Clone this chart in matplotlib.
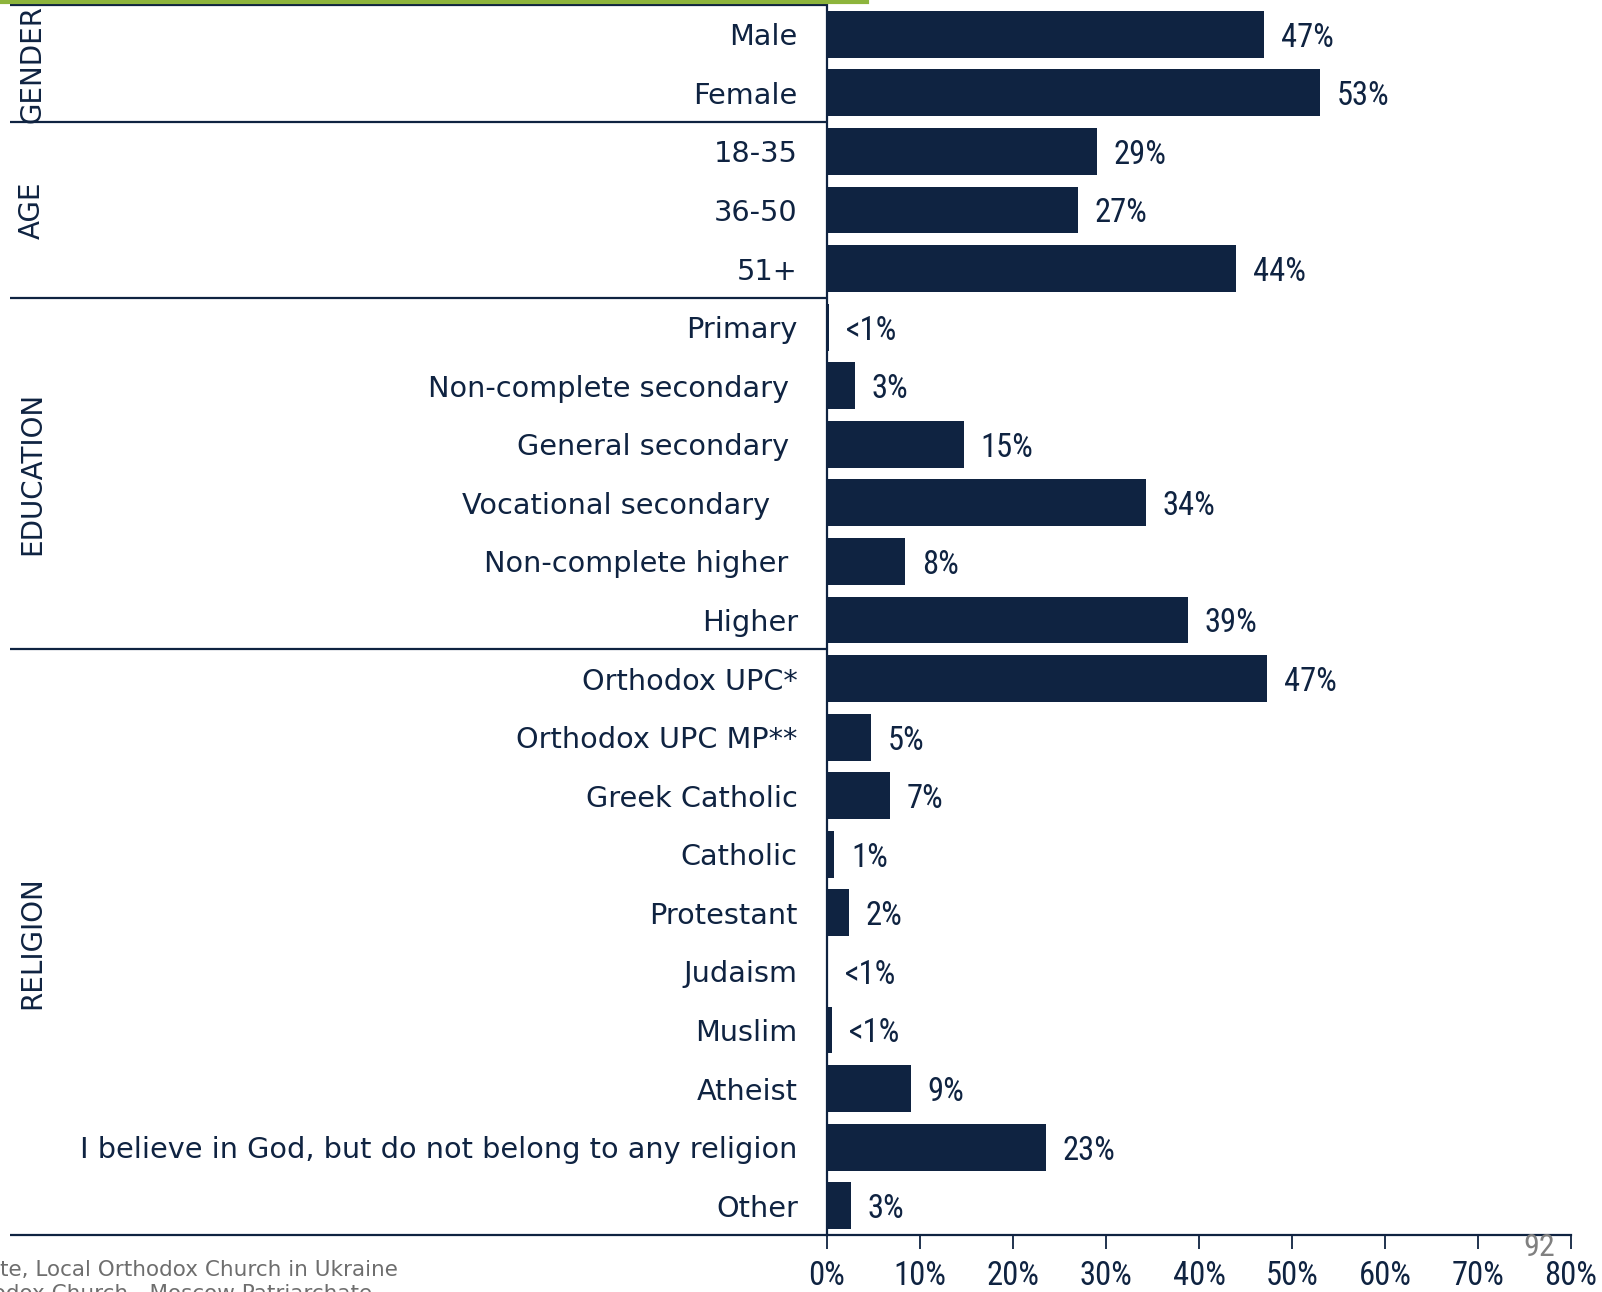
import matplotlib
matplotlib.use("Agg")
import matplotlib.pyplot as plt
import matplotlib.transforms as mtransforms
from matplotlib.lines import Line2D
from matplotlib import font_manager

# ---- data ----
categories = ["Male", "Female",
              "18-35", "36-50", "51+",
              "Primary", "Non-complete secondary ", "General secondary ",
              "Vocational secondary   ", "Non-complete higher ", "Higher",
              "Orthodox UPC*", "Orthodox UPC MP**", "Greek Catholic", "Catholic",
              "Protestant", "Judaism", "Muslim", "Atheist",
              "I believe in God, but do not belong to any religion", "Other"]
values = [47, 53,
          29, 27, 44,
          0.2, 3, 14.7, 34.3, 8.4, 38.8,
          47.3, 4.7, 6.8, 0.8, 2.4, 0.1, 0.5, 9, 23.5, 2.6]
value_labels = ["47%", "53%",
                "29%", "27%", "44%",
                "<1%", "3%", "15%", "34%", "8%", "39%",
                "47%", "5%", "7%", "1%", "2%", "<1%", "<1%", "9%", "23%", "3%"]
groups = ["GENDER", "AGE", "EDUCATION", "RELIGION"]
group_sizes = [2, 3, 6, 10]
xticks = [0, 10, 20, 30, 40, 50, 60, 70, 80]
xtick_labels = ["0%", "10%", "20%", "30%", "40%", "50%", "60%", "70%", "80%"]
footnote1 = "* UPC \u2013 Ukrainian Orthodox Church of Kyiv Patriarchate, Local Orthodox Church in Ukraine"
footnote2 = "** UPC MP \u2013 Ukrainian Orthodox Church - Moscow Patriarchate"
page_number = "92"

NAVY = "#0F2341"
GREEN = "#8DB43C"
GRAY = "#6E6E6E"

installed = {f.name for f in font_manager.fontManager.ttflist}
NARROW = [f for f in ["Liberation Sans Narrow", "Roboto Condensed", "Roboto"] if f in installed]
NARROW = (NARROW[:1] or []) + ["DejaVu Sans"]
num_size = 23.5 if NARROW[0] in ("Liberation Sans Narrow", "Roboto Condensed") else 21

W, H = 1602, 1292
fig = plt.figure(figsize=(W / 100, H / 100), dpi=100)
ax_left, ax_right, ax_top, ax_bottom = 827, 1571, 5, 1235
ax = fig.add_axes([ax_left / W, (H - ax_bottom) / H,
                   (ax_right - ax_left) / W, (ax_bottom - ax_top) / H])

n = len(categories)
pos = list(range(n))
ax.barh(pos, values, height=0.8, color=NAVY)
ax.set_ylim(n - 0.5, -0.5)
ax.set_xlim(0, 80)

ax.set_yticks(pos)
ax.set_yticklabels(categories, fontsize=20.7, color=NAVY, family="DejaVu Sans")
ax.tick_params(axis="y", length=0, pad=21)

ax.set_xticks(xticks)
ax.set_xticklabels(xtick_labels, fontsize=num_size, color=NAVY, family=NARROW)
ax.tick_params(axis="x", length=10, width=1.3, color=NAVY, pad=8)

for s in ["top", "right"]:
    ax.spines[s].set_visible(False)
for s in ["left", "bottom"]:
    ax.spines[s].set_color(NAVY)
    ax.spines[s].set_linewidth(1.6)

# value labels
for v, lab, p in zip(values, value_labels, pos):
    ax.annotate(lab, (v, p), xytext=(12, 0), textcoords="offset points",
                va="center_baseline", ha="left", fontsize=num_size, color=NAVY,
                family=NARROW)

# group separators and labels
trans = mtransforms.blended_transform_factory(ax.transAxes, ax.transData)
x0 = (10 - ax_left) / (ax_right - ax_left)
xlab = (32 - ax_left) / (ax_right - ax_left)
bounds = [-0.5]
for g in group_sizes:
    bounds.append(bounds[-1] + g)
for b in bounds:
    ax.plot([x0, 0], [b, b], transform=trans, color=NAVY, lw=1.6,
            clip_on=False, solid_capstyle="butt")
for g, lo, hi in zip(groups, bounds[:-1], bounds[1:]):
    ax.text(xlab, (lo + hi) / 2, g, transform=trans, rotation=90,
            ha="center", va="center", fontsize=20, color=NAVY,
            family="DejaVu Sans")

# decorative top green line
fig.add_artist(Line2D([0, 867 / W], [1 - 1.5 / H, 1 - 1.5 / H],
                      color=GREEN, lw=3, transform=fig.transFigure))

# footnotes and page number
fig.text(398 / W, 1 - 1270 / H, footnote1, ha="right", va="center",
         fontsize=15.5, color=GRAY, family="DejaVu Sans")
fig.text(372 / W, 1 - 1294 / H, footnote2, ha="right", va="center",
         fontsize=15.5, color=GRAY, family="DejaVu Sans")
fig.text(1539 / W, 1 - 1248 / H, page_number, ha="center", va="center",
         fontsize=23, color="#808080", family=NARROW)

fig.savefig("out.png", dpi=100)
